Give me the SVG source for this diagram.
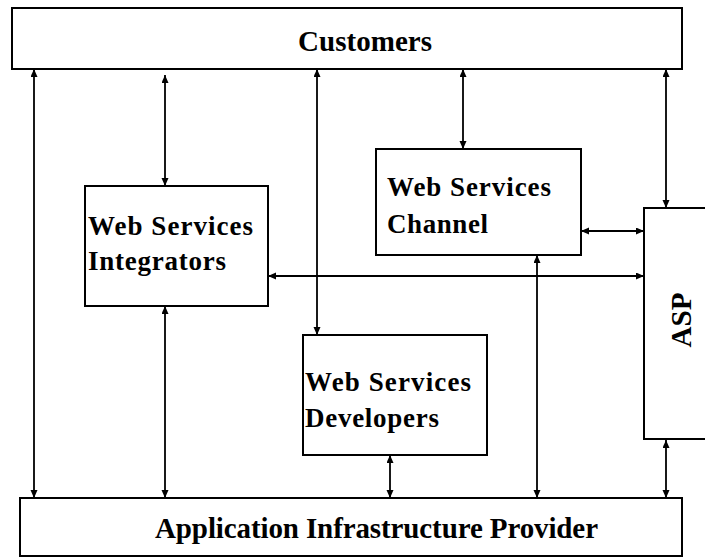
<svg xmlns="http://www.w3.org/2000/svg" width="705" height="559" viewBox="0 0 705 559">
<style>
.box{fill:#fff;stroke:#000;stroke-width:2}
.lbl{font-family:"Liberation Serif","Times New Roman",serif;font-weight:bold;font-size:27px;fill:#000}
.ttl{font-family:"Liberation Serif","Times New Roman",serif;font-weight:bold;font-size:29px;fill:#000}
.con{stroke:#000;stroke-width:1.8;fill:none;marker-start:url(#ah);marker-end:url(#ah)}
</style>
<defs>
<marker id="ah" markerUnits="userSpaceOnUse" markerWidth="8" markerHeight="8" refX="8" refY="3.5" orient="auto-start-reverse">
<path d="M0,0 L8,3.5 L0,7 z" fill="#000"/>
</marker>
</defs>
<rect width="705" height="559" fill="#fff"/>
<g id="connectors">
<line class="con" x1="34" y1="69" x2="34" y2="498"/>
<line class="con" x1="165" y1="75" x2="165" y2="186"/>
<line class="con" x1="165" y1="306" x2="165" y2="498"/>
<line class="con" x1="317" y1="69" x2="317" y2="335"/>
<line class="con" x1="463" y1="69" x2="463" y2="149"/>
<line class="con" x1="390" y1="455" x2="390" y2="498"/>
<line class="con" x1="537" y1="255" x2="537" y2="498"/>
<line class="con" x1="666" y1="69" x2="666" y2="208"/>
<line class="con" x1="666" y1="440" x2="666" y2="498"/>
<line class="con" x1="581" y1="231" x2="644" y2="231"/>
<line class="con" x1="268" y1="276" x2="644" y2="276"/>
</g>
<g id="customers">
<rect class="box" x="12" y="8" width="670" height="61"/>
<text class="ttl" x="298" y="51" textLength="134" lengthAdjust="spacing">Customers</text>
</g>
<g id="aip">
<rect class="box" x="20" y="498" width="662" height="58"/>
<text class="ttl" x="155" y="538" textLength="443" lengthAdjust="spacing">Application Infrastructure Provider</text>
</g>
<g id="integrators">
<rect class="box" x="85" y="186" width="183" height="120"/>
<text class="lbl" x="88" y="235" textLength="165" lengthAdjust="spacing">Web Services</text>
<text class="lbl" x="88" y="270" textLength="138" lengthAdjust="spacing">Integrators</text>
</g>
<g id="channel">
<rect class="box" x="376" y="149" width="205" height="106"/>
<text class="lbl" x="387" y="196" textLength="164" lengthAdjust="spacing">Web Services</text>
<text class="lbl" x="387" y="233" textLength="101" lengthAdjust="spacing">Channel</text>
</g>
<g id="developers">
<rect class="box" x="303" y="335" width="184" height="120"/>
<text class="lbl" x="305" y="391" textLength="166" lengthAdjust="spacing">Web Services</text>
<text class="lbl" x="305" y="427" textLength="134" lengthAdjust="spacing">Developers</text>
</g>
<g id="asp">
<rect class="box" x="644" y="208" width="80" height="231"/>
<text class="ttl" transform="translate(691,320) rotate(-90)" text-anchor="middle" x="0" y="0">ASP</text>
</g>
</svg>
